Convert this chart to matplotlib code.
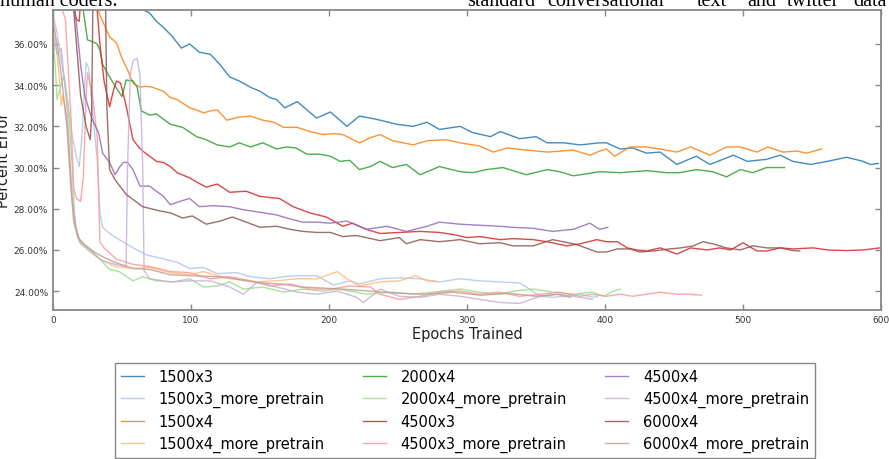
import matplotlib
matplotlib.use("Agg")
import matplotlib.pyplot as plt
from matplotlib.ticker import FuncFormatter

# series: epoch positions and percent error
ep_1500x3 = [0, 20, 40, 60, 67, 70, 75, 80, 86, 93, 99, 106, 114, 121, 128, 135, 143, 150, 157, 162, 168, 177, 184, 191, 201, 213, 222, 230, 237, 249, 261, 271, 280, 295, 304, 317, 324, 338, 350, 358, 370, 382, 396, 401, 411, 420, 430, 440, 452, 466, 476, 493, 503, 517, 527, 536, 549, 561, 575, 587, 592, 598]
err_1500x3 = [43, 41, 39.2, 38.0, 37.6, 37.5, 37.1, 36.8, 36.4, 35.8, 36.0, 35.6, 35.5, 35.0, 34.4, 34.2, 33.9, 33.7, 33.4, 33.3, 32.9, 33.2, 32.8, 32.4, 32.7, 32.0, 32.5, 32.4, 32.3, 32.1, 32.0, 32.2, 31.85, 32.0, 31.7, 31.5, 31.75, 31.4, 31.5, 31.2, 31.2, 31.1, 31.2, 31.2, 30.9, 30.95, 30.7, 30.75, 30.15, 30.55, 30.15, 30.6, 30.3, 30.4, 30.6, 30.3, 30.15, 30.3, 30.5, 30.3, 30.15, 30.2]

ep_1500x3_mp = [0, 3, 6, 10, 14, 17, 19, 21, 23, 24, 26, 29, 32, 34, 36, 41, 48, 58, 68, 78, 90, 99, 109, 119, 133, 143, 157, 167, 177, 191, 203, 215, 222, 237, 251, 266, 280, 295, 309, 324, 338, 343, 353, 362, 372, 382, 391, 395]
err_1500x3_mp = [37.5, 36.5, 35.2, 33.5, 31.5, 30.5, 30.05, 31.5, 34.0, 35.1, 34.8, 32.5, 30.4, 27.8, 27.1, 26.8, 26.5, 26.1, 25.75, 25.6, 25.4, 25.1, 25.15, 24.85, 24.9, 24.7, 24.6, 24.7, 24.75, 24.75, 24.3, 24.5, 24.35, 24.6, 24.65, 24.6, 24.45, 24.6, 24.5, 24.45, 24.4, 24.2, 23.75, 23.7, 23.75, 23.85, 23.7, 23.75]

ep_1500x4 = [0, 20, 30, 34, 38, 41, 46, 50, 54, 58, 63, 67, 72, 80, 85, 90, 99, 104, 109, 114, 119, 126, 135, 143, 152, 160, 167, 177, 186, 196, 203, 210, 222, 230, 237, 246, 254, 261, 271, 285, 295, 309, 319, 329, 343, 358, 368, 377, 389, 396, 401, 407, 418, 430, 440, 452, 462, 476, 488, 498, 510, 518, 529, 539, 546, 557]
err_1500x4 = [42, 39.5, 38.2, 37.4, 36.8, 36.35, 36.05, 35.3, 34.75, 34.1, 33.9, 33.95, 33.9, 33.7, 33.4, 33.3, 32.9, 32.8, 32.65, 32.75, 32.8, 32.3, 32.45, 32.5, 32.3, 32.2, 31.95, 31.95, 31.75, 31.6, 31.65, 31.6, 31.2, 31.45, 31.6, 31.3, 31.2, 31.1, 31.3, 31.35, 31.2, 31.05, 30.75, 30.95, 30.85, 30.75, 30.8, 30.85, 30.6, 30.8, 30.9, 30.55, 31.0, 31.0, 30.9, 30.75, 31.0, 30.6, 31.0, 31.0, 30.75, 31.0, 30.75, 30.8, 30.7, 30.9]

ep_1500x4_mp = [0, 3, 5, 6, 7, 10, 13, 15, 20, 27, 35, 45, 58, 70, 85, 99, 109, 119, 133, 148, 162, 177, 191, 200, 206, 213, 222, 237, 251, 263, 271, 279]
err_1500x4_mp = [37.5, 35.5, 34.0, 33.0, 33.5, 32.5, 29.5, 27.3, 26.4, 26.0, 25.5, 25.2, 25.1, 25.15, 24.9, 24.8, 24.95, 24.75, 24.6, 24.45, 24.5, 24.6, 24.6, 24.8, 24.95, 24.6, 24.25, 24.45, 24.5, 24.75, 24.5, 24.45]

ep_2000x4 = [0, 15, 22, 25, 29, 32, 34, 36, 41, 46, 50, 53, 58, 61, 64, 70, 75, 85, 94, 104, 111, 119, 128, 135, 143, 152, 162, 169, 176, 184, 193, 201, 208, 215, 222, 230, 237, 246, 256, 266, 280, 295, 304, 314, 326, 343, 358, 367, 377, 387, 396, 411, 430, 445, 454, 466, 478, 488, 498, 507, 517, 530]
err_2000x4 = [41, 39, 37.6, 36.2, 36.1, 36.0, 35.7, 35.0, 34.4, 33.85, 33.45, 34.25, 34.2, 33.9, 32.75, 32.55, 32.6, 32.1, 31.95, 31.5, 31.35, 31.1, 31.0, 31.2, 31.0, 31.2, 30.9, 31.0, 30.95, 30.65, 30.65, 30.55, 30.3, 30.35, 29.9, 30.05, 30.3, 30.0, 30.15, 29.65, 30.05, 29.8, 29.75, 29.9, 30.0, 29.65, 29.9, 29.8, 29.6, 29.7, 29.8, 29.75, 29.85, 29.75, 29.75, 29.9, 29.8, 29.55, 29.9, 29.75, 30.0, 30.0]

ep_2000x4_mp = [0, 1, 2, 3, 5, 8, 11, 14, 16, 19, 27, 34, 41, 48, 58, 65, 75, 87, 99, 109, 119, 128, 138, 152, 167, 181, 196, 206, 220, 227, 246, 261, 275, 295, 309, 324, 333, 348, 362, 377, 391, 399, 406, 411]
err_2000x4_mp = [37.0, 35.5, 34.5, 33.3, 33.8, 34.5, 33.0, 30.0, 27.15, 26.4, 26.0, 25.55, 25.05, 24.95, 24.5, 24.7, 24.5, 24.45, 24.6, 24.2, 24.25, 24.45, 24.1, 24.2, 23.95, 24.1, 24.0, 24.1, 23.95, 23.85, 23.95, 23.85, 23.95, 24.1, 23.95, 23.85, 24.0, 24.1, 23.95, 23.85, 23.95, 23.75, 24.0, 24.1]

ep_4500x3 = [0, 12, 15, 17, 19, 21, 28, 31, 34, 37, 41, 44, 46, 49, 53, 56, 58, 62, 65, 70, 75, 80, 85, 90, 99, 104, 111, 119, 128, 140, 150, 164, 174, 186, 198, 210, 217, 227, 237, 251, 266, 280, 290, 300, 309, 324, 333, 348, 358, 372, 382, 394, 401, 409, 416, 423, 430, 440, 452, 462, 474, 483, 491, 500, 510, 517, 527, 536, 551, 561, 575, 587, 599]
err_4500x3 = [40, 39, 37.8, 37.2, 37.1, 39, 39.5, 38.5, 36.0, 34.2, 32.95, 33.8, 34.2, 34.1, 33.0, 32.0, 31.35, 31.0, 30.8, 30.55, 30.3, 30.25, 30.05, 29.75, 29.5, 29.3, 29.05, 29.2, 28.8, 28.85, 28.6, 28.5, 28.1, 27.8, 27.6, 27.15, 27.3, 27.0, 26.8, 26.85, 26.9, 26.85, 26.75, 26.6, 26.65, 26.5, 26.55, 26.5, 26.4, 26.2, 26.3, 26.5, 26.4, 26.4, 26.1, 26.0, 25.95, 26.1, 25.8, 26.1, 26.0, 26.1, 26.0, 26.35, 25.95, 25.95, 26.1, 26.05, 26.1, 26.0, 25.97, 26.0, 26.1]

ep_4500x3_mp = [0, 9, 13, 15, 17, 20, 22, 24, 25, 27, 29, 32, 34, 37, 46, 58, 70, 85, 99, 114, 128, 143, 157, 172, 186, 201, 215, 230, 237, 251, 266, 280, 295, 309, 324, 338, 353, 367, 382, 391, 401, 411, 420, 430, 440, 452, 462, 470]
err_4500x3_mp = [39, 37.2, 32.5, 29.0, 28.5, 28.35, 29.5, 33.5, 34.6, 34.0, 33.3, 31.5, 26.4, 26.1, 25.55, 25.3, 25.2, 24.95, 24.9, 24.6, 24.7, 24.5, 24.25, 24.35, 24.1, 24.1, 24.25, 24.2, 23.85, 23.6, 23.75, 23.95, 24.0, 23.85, 23.95, 23.75, 23.85, 23.95, 23.75, 23.85, 23.75, 23.85, 23.75, 23.85, 23.95, 23.85, 23.85, 23.8]

ep_4500x4 = [0, 14, 17, 20, 23, 28, 33, 36, 41, 45, 48, 51, 54, 58, 63, 70, 75, 80, 85, 94, 99, 106, 116, 128, 138, 148, 162, 172, 181, 191, 201, 213, 227, 242, 256, 271, 280, 295, 309, 324, 333, 348, 362, 377, 389, 396, 402]
err_4500x4 = [40, 38.5, 37.0, 35.0, 33.5, 32.4, 31.7, 30.7, 30.25, 29.65, 30.0, 30.25, 30.25, 29.9, 29.1, 29.1, 28.85, 28.6, 28.2, 28.4, 28.5, 28.1, 28.15, 28.1, 27.95, 27.85, 27.7, 27.5, 27.35, 27.35, 27.3, 27.4, 27.0, 27.15, 26.9, 27.15, 27.35, 27.25, 27.2, 27.15, 27.1, 27.05, 26.9, 27.0, 27.3, 27.0, 27.1]

ep_4500x4_mp = [0, 3, 6, 10, 14, 17, 20, 27, 35, 45, 53, 54, 56, 58, 61, 63, 65, 66, 70, 85, 99, 114, 128, 138, 148, 162, 177, 191, 206, 220, 225, 237, 251, 266, 280, 295, 309, 324, 338, 353, 367, 382, 391]
err_4500x4_mp = [36.5, 35.5, 35.8, 33.0, 28.5, 27.0, 26.3, 25.9, 25.5, 25.3, 25.2, 30.0, 34.5, 35.2, 35.3, 34.5, 30.0, 25.0, 24.6, 24.45, 24.5, 24.5, 24.2, 23.85, 24.45, 24.2, 23.95, 23.85, 24.0, 23.7, 23.45, 24.1, 23.75, 23.7, 23.85, 23.75, 23.6, 23.45, 23.4, 23.75, 23.85, 23.7, 23.6]

ep_6000x4 = [0, 14, 17, 20, 24, 27, 28, 29, 38, 39, 41, 45, 53, 65, 77, 85, 94, 101, 111, 121, 130, 140, 150, 162, 172, 181, 191, 201, 210, 220, 227, 237, 251, 256, 266, 280, 295, 309, 324, 333, 348, 362, 377, 382, 394, 401, 409, 418, 425, 435, 447, 455, 464, 471, 478, 488, 498, 507, 517, 527, 536, 541]
err_6000x4 = [40, 38.5, 36.0, 33.5, 32.0, 31.35, 32.5, 38.5, 38.5, 33.0, 29.9, 29.4, 28.7, 28.1, 27.9, 27.8, 27.55, 27.65, 27.25, 27.4, 27.6, 27.35, 27.1, 27.15, 27.0, 26.9, 26.85, 26.85, 26.65, 26.7, 26.6, 26.45, 26.6, 26.3, 26.5, 26.4, 26.5, 26.3, 26.35, 26.2, 26.2, 26.5, 26.3, 26.2, 25.9, 25.9, 26.05, 26.05, 25.9, 25.95, 26.05, 26.1, 26.2, 26.4, 26.3, 26.1, 26.0, 26.2, 26.1, 26.1, 25.97, 25.95]

ep_6000x4_mp = [0, 3, 6, 10, 13, 15, 18, 24, 30, 35, 45, 58, 70, 85, 99, 120, 135, 150, 165, 180, 195, 210, 230, 250, 270, 290, 310, 330, 350, 365, 375]
err_6000x4_mp = [37.0, 36.0, 34.5, 32.0, 29.0, 27.5, 26.6, 26.2, 25.9, 25.7, 25.4, 25.1, 25.05, 24.8, 24.75, 24.7, 24.55, 24.4, 24.35, 24.2, 24.15, 24.1, 24.0, 23.9, 23.85, 23.95, 23.8, 23.9, 23.75, 23.85, 23.7]

labels = ["1500x3", "1500x3_more_pretrain", "1500x4", "1500x4_more_pretrain",
          "2000x4", "2000x4_more_pretrain", "4500x3", "4500x3_more_pretrain",
          "4500x4", "4500x4_more_pretrain", "6000x4", "6000x4_more_pretrain"]
series = [(ep_1500x3, err_1500x3), (ep_1500x3_mp, err_1500x3_mp),
          (ep_1500x4, err_1500x4), (ep_1500x4_mp, err_1500x4_mp),
          (ep_2000x4, err_2000x4), (ep_2000x4_mp, err_2000x4_mp),
          (ep_4500x3, err_4500x3), (ep_4500x3_mp, err_4500x3_mp),
          (ep_4500x4, err_4500x4), (ep_4500x4_mp, err_4500x4_mp),
          (ep_6000x4, err_6000x4), (ep_6000x4_mp, err_6000x4_mp)]
colors = ["#1f77b4", "#aec7e8", "#ff7f0e", "#ffbb78", "#2ca02c", "#98df8a",
          "#d62728", "#ff9896", "#9467bd", "#c5b0d5", "#8c564b", "#c49c94"]

fig = plt.figure(figsize=(8.89, 4.60), dpi=100)
ax = fig.add_axes([0.0596, 0.3246, 0.9315, 0.652])

for (x, y), lab, c in zip(series, labels, colors):
    ax.plot(x, y, color=c, lw=1.0, alpha=0.85, label=lab)

ax.set_xlim(0, 600)
ax.set_ylim(23.1, 37.66)
ax.set_xticks(range(0, 601, 100))
ax.set_yticks([24, 26, 28, 30, 32, 34, 36])
ax.yaxis.set_major_formatter(FuncFormatter(lambda v, p: "%.2f%%" % v))
ax.tick_params(direction="in", length=4, width=1, colors="#888888",
               labelcolor="#333333", labelsize=6.5, top=True, right=True)
for s in ax.spines.values():
    s.set_color("#888888")
    s.set_linewidth(1.3)
ax.set_xlabel("Epochs Trained", fontsize=10.5, color="#222222", labelpad=2)
ax.set_ylabel("Percent Error", fontsize=10.5, color="#222222")
ax.yaxis.set_label_coords(-0.0505, 0.5)

leg = fig.legend(loc="upper center", bbox_to_anchor=(0.523, 0.225), ncol=3,
                 fontsize=10.5, frameon=True, fancybox=False, framealpha=1,
                 edgecolor="#888888", handlelength=1.6, handletextpad=1.0,
                 columnspacing=2.6, labelspacing=0.48, borderpad=0.4)
leg.get_frame().set_linewidth(1.0)

# bits of the paper text that sit above the figure
serif = ["Liberation Serif", "DejaVu Serif"]
fig.text(0.0, 1 - 6 / 460, "human coders.", family=serif, fontsize=14.5, va="baseline")
for word, px in [("standard", 467), ("conversational", 547), ("text", 697),
                 ("and", 747), ("twitter", 787), ("data", 853)]:
    fig.text(px / 889, 1 - 6 / 460, word, family=serif, fontsize=14.5, va="baseline")

fig.savefig("out.png", dpi=100)
